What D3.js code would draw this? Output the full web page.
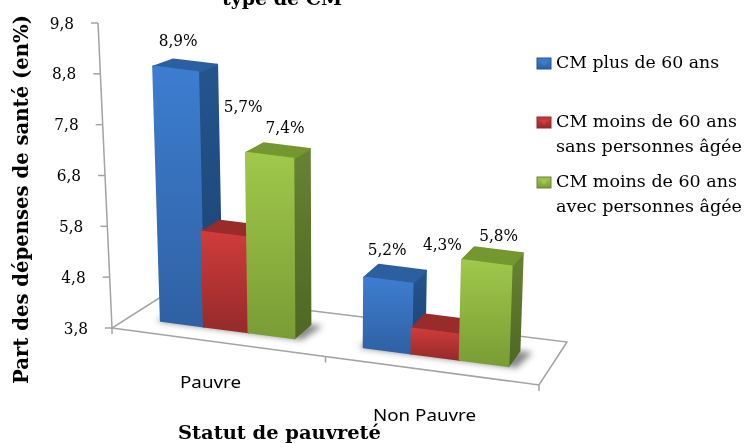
<!DOCTYPE html>
<html>
<head>
<meta charset="utf-8">
<script src="https://cdn.jsdelivr.net/npm/d3@7"></script>
<style>
  html, body { margin: 0; padding: 0; background: #fff; }
  svg { display: block; filter: blur(0.4px); }
  text { font-family: "DejaVu Serif Condensed", "DejaVu Serif", serif; fill: #000; }
  .sans { font-family: "Noto Sans", sans-serif; }
</style>
</head>
<body>
<div id="chart"></div>
<script>
const categories = ['Pauvre', 'Non Pauvre'];
const seriesNames = ['CM plus de 60 ans', 'CM moins de 60 ans sans personnes âgée', 'CM moins de 60 ans avec personnes âgée'];
const legendLines = [['CM plus de 60 ans'], ['CM moins de 60 ans', 'sans personnes âgée'], ['CM moins de 60 ans', 'avec personnes âgée']];
const pauvreValues = [8.9, 5.7, 7.4];
const nonPauvreValues = [5.2, 4.3, 5.8];
const tickValues = [3.8, 4.8, 5.8, 6.8, 7.8, 8.8, 9.8];

const width = 744, height = 443;
const fmt = (v) => String(v).replace('.', ',');

const colors = [
  { top: '#2b5f9f', front: ['#3d7dd0', '#2f61a3'], side: ['#23558f', '#1c4270'] },
  { top: '#992b2a', front: ['#cf3c3b', '#962a2a'], side: ['#8a2726', '#6d1f1f'] },
  { top: '#75972f', front: ['#a0c84a', '#7a9c35'], side: ['#678332', '#4e6723'] }
];

// floor of the 3d box, corners in screen space
const floorA = [112, 328], floorB = [539, 385], floorC = [567, 342], floorD = [167, 293];
const depthFront = 0.32, depthBack = 0.68;

const perspective = d3.scalePow().exponent(1.07).domain([0, 1]).range([0, 1]);
const xGroup = d3.scaleBand().domain(categories).range([0, 1]).paddingInner(0.33).paddingOuter(0.18);
const xBar = d3.scaleBand().domain(seriesNames).range([0, xGroup.bandwidth()]);
const yHeight = d3.scaleLinear().domain([3.8, 9.8]).range([0, 305]);

function floorPoint(t, d) {
  const u = perspective(t);
  const fx = floorA[0] + (floorB[0] - floorA[0]) * u, fy = floorA[1] + (floorB[1] - floorA[1]) * u;
  const bx = floorD[0] + (floorC[0] - floorD[0]) * u, by = floorD[1] + (floorC[1] - floorD[1]) * u;
  return [fx + (bx - fx) * d, fy + (by - fy) * d];
}

// verticals lean toward a vanishing point, and things further back are a bit shorter
function project(t, d, v) {
  const p = floorPoint(t, d);
  const h = yHeight(v) * (1 - 0.06 * d);
  return [p[0] + h * 0.00018 * (p[0] - 330), p[1] - h];
}

const svg = d3.select('#chart').append('svg').attr('width', width).attr('height', height);
const defs = svg.append('defs');
defs.append('filter').attr('id', 'soft').attr('x', '-30%').attr('y', '-30%').attr('width', '160%').attr('height', '160%')
  .append('feGaussianBlur').attr('stdDeviation', 3);

function gradient(id, stops) {
  const g = defs.append('linearGradient').attr('id', id).attr('x1', 0).attr('y1', 0).attr('x2', 0).attr('y2', 1);
  g.append('stop').attr('offset', 0).attr('stop-color', stops[0]);
  g.append('stop').attr('offset', 1).attr('stop-color', stops[1]);
}
colors.forEach((c, i) => {
  gradient('front' + i, c.front);
  gradient('side' + i, c.side);
});

const poly = (pts) => 'M' + pts.map((p) => p.join(',')).join('L') + 'Z';

// the source picture has wide letters, so text is stretched to the measured width
function label(x, y, txt, size, len) {
  return svg.append('text').attr('x', x).attr('y', y).attr('font-size', size)
    .attr('textLength', len).attr('lengthAdjust', 'spacingAndGlyphs').text(txt);
}

// floor
svg.append('path')
  .attr('d', poly([floorA, floorB, floorC, floorD]))
  .attr('fill', '#fff').attr('stroke', '#a3a3a3').attr('stroke-width', 1.5);

const xTicks = [0, 0.5, 1];
svg.selectAll('.x-tick').data(xTicks).join('line')
  .attr('class', 'x-tick')
  .attr('x1', (t) => floorA[0] + (floorB[0] - floorA[0]) * t)
  .attr('x2', (t) => floorA[0] + (floorB[0] - floorA[0]) * t)
  .attr('y1', (t) => floorA[1] + (floorB[1] - floorA[1]) * t)
  .attr('y2', (t) => floorA[1] + (floorB[1] - floorA[1]) * t + 6)
  .attr('stroke', '#a3a3a3').attr('stroke-width', 1.5);

// value axis
const axisX = (v) => floorA[0] + yHeight(v) * 0.00021 * (floorA[0] - 330);
const axisY = (v) => project(0, 0, v)[1];
svg.append('line')
  .attr('x1', axisX(3.8)).attr('y1', axisY(3.8)).attr('x2', axisX(9.8)).attr('y2', axisY(9.8))
  .attr('stroke', '#a3a3a3').attr('stroke-width', 1.5);
svg.selectAll('.y-tick').data(tickValues).join('line')
  .attr('class', 'y-tick')
  .attr('x1', (v) => axisX(v) - 7).attr('x2', axisX)
  .attr('y1', axisY).attr('y2', axisY)
  .attr('stroke', '#a3a3a3').attr('stroke-width', 1.5);
svg.selectAll('.y-label').data(tickValues).join('text')
  .attr('class', 'y-label')
  .attr('x', (v) => axisX(v) - 24).attr('y', axisY)
  .attr('dy', '0.33em').attr('text-anchor', 'end')
  .attr('font-size', 17)
  .text((v) => fmt(v.toFixed(1)));

// bars
const barData = categories.flatMap((cat, c) => {
  const vals = c === 0 ? pauvreValues : nonPauvreValues;
  return seriesNames.map((name, s) => ({ cat, name, s, v: vals[s] }));
});

const shadowG = svg.append('g').attr('filter', 'url(#soft)');
categories.forEach((cat) => {
  const t0 = xGroup(cat), t1 = t0 + xGroup.bandwidth();
  shadowG.append('path')
    .attr('d', poly([floorPoint(t0 - 0.01, depthFront - 0.02), floorPoint(t1 + 0.02, depthFront - 0.02),
      floorPoint(t1 + 0.03, depthBack), floorPoint(t0, depthBack)]))
    .attr('fill', '#555').attr('opacity', 0.7);
});

const bars = svg.selectAll('.bar').data(barData).join('g').attr('class', 'bar');
bars.each(function (b) {
  const g = d3.select(this);
  const t0 = xGroup(b.cat) + xBar(b.name), t1 = t0 + xBar.bandwidth();
  const fl = project(t0, depthFront, b.v), fr = project(t1, depthFront, b.v);
  const bl = project(t0, depthBack, b.v), br = project(t1, depthBack, b.v);
  const fl0 = project(t0, depthFront, 3.8), fr0 = project(t1, depthFront, 3.8), br0 = project(t1, depthBack, 3.8);
  g.append('path').attr('d', poly([fr, br, br0, fr0]))
    .attr('fill', `url(#side${b.s})`).attr('stroke', `url(#side${b.s})`).attr('stroke-width', 2).attr('stroke-linejoin', 'round');
  g.append('path').attr('d', poly([fl, bl, br, fr]))
    .attr('fill', colors[b.s].top).attr('stroke', colors[b.s].top).attr('stroke-width', 2).attr('stroke-linejoin', 'round');
  g.append('path').attr('d', poly([fl, fr, fr0, fl0]))
    .attr('fill', `url(#front${b.s})`).attr('stroke', `url(#front${b.s})`).attr('stroke-width', 2).attr('stroke-linejoin', 'round');
});

// data labels sit above the bar tops, except the red ones that were pulled up clear of the others
const labelNudge = { 'Pauvre': [[-7, -25], [10, -123], [7, -24]], 'Non Pauvre': [[-8, -25], [0, -80], [6, -21]] };
svg.selectAll('.value-label').data(barData).join('text')
  .attr('class', 'value-label')
  .attr('x', (b) => {
    const t = xGroup(b.cat) + xBar(b.name) + xBar.bandwidth() / 2;
    return project(t, 0.5, b.v)[0] + labelNudge[b.cat][b.s][0];
  })
  .attr('y', (b) => {
    const t = xGroup(b.cat) + xBar(b.name) + xBar.bandwidth() / 2;
    return project(t, 0.5, b.v)[1] + labelNudge[b.cat][b.s][1];
  })
  .attr('dy', '0.33em').attr('text-anchor', 'middle').attr('font-size', 17)
  .text((b) => fmt(b.v) + '%');

// category labels
label(180, 388, categories[0], 17, 61).attr('class', 'sans');
label(373, 421, categories[1], 17, 103).attr('class', 'sans');

// titles
label(222, 5, 'type de CM', 19, 120).attr('font-weight', 'bold');
label(178, 439, 'Statut de pauvreté', 19, 203).attr('font-weight', 'bold');
svg.append('text').attr('transform', 'translate(28,384) rotate(-90)')
  .attr('font-size', 20).attr('font-weight', 'bold')
  .attr('textLength', 369).attr('lengthAdjust', 'spacingAndGlyphs')
  .text('Part des dépenses de santé (en%)');

// legend
const legendTop = [63, 122, 182];
const legendWidths = [[163], [181, 186], [181, 186]];
seriesNames.forEach((name, i) => {
  const y = legendTop[i];
  svg.append('rect').attr('x', 537).attr('y', y - 5).attr('width', 14).attr('height', 11)
    .attr('fill', `url(#front${i})`).attr('stroke', colors[i].side[0]).attr('stroke-width', 1);
  svg.append('path').attr('d', `M540,${y - 2}L548,${y - 2}L544,${y + 3}Z`).attr('fill', colors[i].front[0]);
  legendLines[i].forEach((line, k) => {
    label(556, y + k * 25, line, 16.5, legendWidths[i][k]).attr('dy', '0.33em');
  });
});
</script>
</body>
</html>
